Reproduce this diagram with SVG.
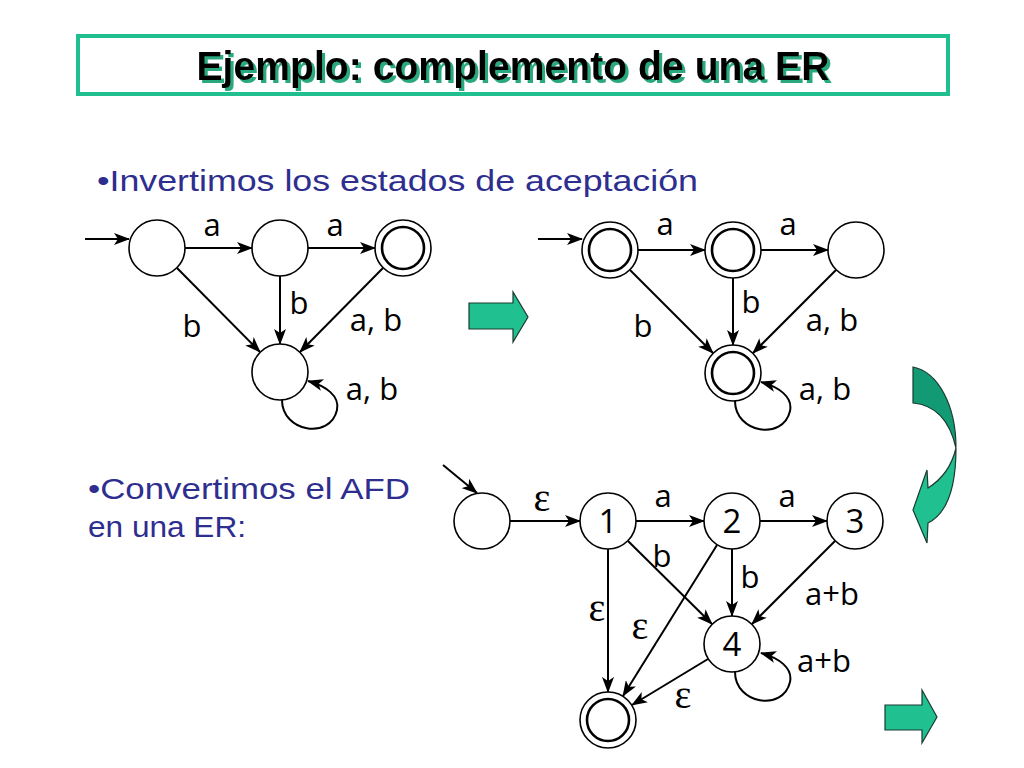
<svg xmlns="http://www.w3.org/2000/svg" width="1024" height="768" viewBox="0 0 1024 768">
<defs>
<style>
.st{fill:#fff;stroke:#000;stroke-width:1.6}
.in{fill:none;stroke:#000;stroke-width:2.6}
.e{fill:none;stroke:#000;stroke-width:2;marker-end:url(#ah)}
.lb{font-family:"Open Sans","Noto Sans",sans-serif;font-size:31px;fill:#000;text-anchor:middle}
.num{font-family:"Open Sans","Noto Sans",sans-serif;font-size:33px;fill:#000;text-anchor:middle}
.eps{font-family:"Liberation Serif","Times New Roman",serif;font-size:40px;fill:#000;text-anchor:middle}
.body{font-family:"Liberation Sans",Arial,sans-serif;font-size:30px;fill:#2e2e8f}
.ttl{font-family:"Liberation Sans",Arial,sans-serif;font-size:40px;font-weight:bold;text-anchor:middle}
.ga{fill:#20c090;stroke:#1a3a30;stroke-width:1.2}
</style>
<filter id="shadow" x="-5%" y="-20%" width="110%" height="140%">
<feFlood flood-color="#2aa880" result="c"/>
<feComposite in="c" in2="SourceAlpha" operator="in" result="s"/>
<feOffset in="s" dx="3" dy="3" result="o"/>
<feMerge><feMergeNode in="o"/><feMergeNode in="SourceGraphic"/></feMerge>
</filter>
<marker id="ah" viewBox="0 0 16 12" refX="15" refY="6" markerWidth="16" markerHeight="12" markerUnits="userSpaceOnUse" orient="auto">
<path d="M0,0 L16,6 L0,12 L4,6 Z" fill="#000"/>
</marker>
</defs>
<rect width="1024" height="768" fill="#fff"/>

<g id="title">
<rect x="78" y="36" width="870" height="58" fill="#fff" stroke="#1fbf8f" stroke-width="4"/>
<text class="ttl" x="513" y="80" fill="#000" filter="url(#shadow)" textLength="633" lengthAdjust="spacingAndGlyphs">Ejemplo: complemento de una ER</text>
</g>

<text class="body" x="97" y="191" textLength="601" lengthAdjust="spacingAndGlyphs">•Invertimos los estados de aceptación</text>
<text class="body" x="88" y="499" textLength="322" lengthAdjust="spacingAndGlyphs">•Convertimos el AFD</text>
<text class="body" x="88" y="537" textLength="158" lengthAdjust="spacingAndGlyphs">en una ER:</text>

<!-- Automaton 1 -->
<g id="connectors1">
<path class="e" d="M85,239 L129,239"/>
<path class="e" d="M185,248 L252,248"/>
<path class="e" d="M308,248 L375,248"/>
<path class="e" d="M177,268 L260,352"/>
<path class="e" d="M280,276 L280,344"/>
<path class="e" d="M383,268 L300,352"/>
<path class="e" d="M282,400 C282,432 330,440 337,410 C340,396 326,386 308,381"/>
</g>
<g id="a1-s0"><circle class="st" cx="157" cy="248" r="28"/></g>
<g id="a1-s1"><circle class="st" cx="280" cy="248" r="28"/></g>
<g id="a1-s2"><circle class="st" cx="403" cy="248" r="28"/><circle class="in" cx="403" cy="248" r="21"/></g>
<g id="a1-s3"><circle class="st" cx="280" cy="372" r="28"/></g>
<g id="labels1">
<text class="lb" x="212" y="236">a</text>
<text class="lb" x="335" y="236">a</text>
<text class="lb" x="192" y="337">b</text>
<text class="lb" x="299" y="314">b</text>
<text class="lb" x="376" y="331">a, b</text>
<text class="lb" x="372" y="400">a, b</text>
</g>

<g id="arrow-mid"><path class="ga" d="M469,303 L513,303 L513,292 L528,317 L513,342 L513,329 L469,329 Z"/></g>

<!-- Automaton 2 -->
<g id="connectors2">
<path class="e" d="M538,239 L582,239"/>
<path class="e" d="M638,250 L705,250"/>
<path class="e" d="M761,250 L828,250"/>
<path class="e" d="M630,270 L713,353"/>
<path class="e" d="M733,278 L733,345"/>
<path class="e" d="M836,270 L753,353"/>
<path class="e" d="M735,401 C735,433 783,441 790,411 C793,397 779,387 761,382"/>
</g>
<g id="a2-s0"><circle class="st" cx="610" cy="250" r="28"/><circle class="in" cx="610" cy="250" r="21"/></g>
<g id="a2-s1"><circle class="st" cx="733" cy="250" r="28"/><circle class="in" cx="733" cy="250" r="21"/></g>
<g id="a2-s2"><circle class="st" cx="856" cy="250" r="28"/></g>
<g id="a2-s3"><circle class="st" cx="733" cy="373" r="28"/><circle class="in" cx="733" cy="373" r="21"/></g>
<g id="labels2">
<text class="lb" x="665" y="235">a</text>
<text class="lb" x="788" y="235">a</text>
<text class="lb" x="643" y="337">b</text>
<text class="lb" x="751" y="313">b</text>
<text class="lb" x="832" y="331">a, b</text>
<text class="lb" x="825" y="400">a, b</text>
</g>

<g id="arrow-curved">
<path fill="#129a74" stroke="#1a3a30" stroke-width="1.2" d="M913,367 C938,372 956,405 956,448 C950,422 936,405 913,403 Z"/>
<path class="ga" d="M956,448 C956,490 946,514 928,523 L927,543 L913,510 L927,470 L928,488 C944,478 952,465 956,448 Z"/>
</g>

<!-- Automaton 3 -->
<g id="connectors3">
<path class="e" d="M443,465 L477,493"/>
<path class="e" d="M510,521 L580,521"/>
<path class="e" d="M636,521 L704,521"/>
<path class="e" d="M760,521 L827,521"/>
<path class="e" d="M608,549 L608,692"/>
<path class="e" d="M628,541 L712,624"/>
<path class="e" d="M717,545 L623,696"/>
<path class="e" d="M732,549 L732,616"/>
<path class="e" d="M835,541 L752,624"/>
<path class="e" d="M708,659 L632,705"/>
<path class="e" d="M735,672 C735,704 783,712 790,682 C793,668 779,658 761,653"/>
</g>
<g id="a3-s0"><circle class="st" cx="482" cy="521" r="28"/></g>
<g id="a3-s1"><circle class="st" cx="608" cy="521" r="28"/><text class="num" x="608" y="533">1</text></g>
<g id="a3-s2"><circle class="st" cx="732" cy="521" r="28"/><text class="num" x="732" y="533">2</text></g>
<g id="a3-s3"><circle class="st" cx="855" cy="521" r="28"/><text class="num" x="855" y="533">3</text></g>
<g id="a3-s4"><circle class="st" cx="732" cy="644" r="28"/><text class="num" x="732" y="656">4</text></g>
<g id="a3-sf"><circle class="st" cx="608" cy="720" r="28"/><circle class="in" cx="608" cy="720" r="21"/></g>
<g id="labels3">
<text class="eps" x="542" y="511">ε</text>
<text class="lb" x="663" y="507">a</text>
<text class="lb" x="787" y="507">a</text>
<text class="lb" x="662" y="567">b</text>
<text class="lb" x="750" y="588">b</text>
<text class="lb" x="832" y="605">a+b</text>
<text class="eps" x="597" y="621">ε</text>
<text class="eps" x="640" y="639">ε</text>
<text class="lb" x="824" y="672">a+b</text>
<text class="eps" x="683" y="708">ε</text>
</g>

<g id="arrow-bottom"><path class="ga" d="M885,705 L922,705 L922,690 L937,717 L922,743 L922,730 L885,730 Z"/></g>
</svg>
